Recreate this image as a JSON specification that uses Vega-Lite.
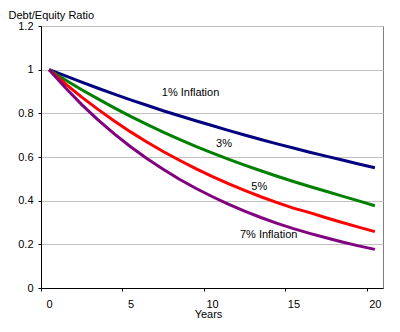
{
  "$schema": "https://vega.github.io/schema/vega-lite/v6.json",
  "autosize": {"type": "none"},
  "padding": {"left": 41, "top": 26, "right": 17, "bottom": 44},
  "width": 342,
  "height": 262,
  "background": "white",
  "config": {
    "font": "Liberation Sans",
    "view": {"stroke": "#808080", "strokeWidth": 1},
    "axis": {
      "labelFont": "Liberation Sans", "labelFontSize": 11, "labelColor": "black",
      "titleFont": "Liberation Sans", "titleFontSize": 11, "titleFontWeight": "normal", "titleColor": "black",
      "domainColor": "black", "tickColor": "black", "tickSize": 3
    }
  },
  "datasets": {
    "ratios": [
      {"year": 0, "p1": 1, "p3": 1, "p5": 1, "p7": 1},
      {"year": 1, "p1": 0.972, "p3": 0.953, "p5": 0.935, "p7": 0.917},
      {"year": 2, "p1": 0.943, "p3": 0.908, "p5": 0.874, "p7": 0.840},
      {"year": 3, "p1": 0.915, "p3": 0.866, "p5": 0.818, "p7": 0.770},
      {"year": 4, "p1": 0.888, "p3": 0.825, "p5": 0.765, "p7": 0.706},
      {"year": 5, "p1": 0.862, "p3": 0.786, "p5": 0.715, "p7": 0.647},
      {"year": 6, "p1": 0.837, "p3": 0.749, "p5": 0.669, "p7": 0.593},
      {"year": 7, "p1": 0.812, "p3": 0.714, "p5": 0.625, "p7": 0.544},
      {"year": 8, "p1": 0.789, "p3": 0.681, "p5": 0.585, "p7": 0.498},
      {"year": 9, "p1": 0.766, "p3": 0.649, "p5": 0.547, "p7": 0.457},
      {"year": 10, "p1": 0.744, "p3": 0.619, "p5": 0.511, "p7": 0.419},
      {"year": 11, "p1": 0.722, "p3": 0.590, "p5": 0.478, "p7": 0.384},
      {"year": 12, "p1": 0.701, "p3": 0.563, "p5": 0.447, "p7": 0.352},
      {"year": 13, "p1": 0.680, "p3": 0.537, "p5": 0.418, "p7": 0.323},
      {"year": 14, "p1": 0.660, "p3": 0.512, "p5": 0.391, "p7": 0.296},
      {"year": 15, "p1": 0.641, "p3": 0.488, "p5": 0.366, "p7": 0.272},
      {"year": 16, "p1": 0.622, "p3": 0.465, "p5": 0.345, "p7": 0.250},
      {"year": 17, "p1": 0.604, "p3": 0.443, "p5": 0.322, "p7": 0.230},
      {"year": 18, "p1": 0.586, "p3": 0.421, "p5": 0.300, "p7": 0.211},
      {"year": 19, "p1": 0.568, "p3": 0.399, "p5": 0.279, "p7": 0.193},
      {"year": 20, "p1": 0.551, "p3": 0.377, "p5": 0.258, "p7": 0.177}
    ],
    "labels": [
      {"label": "1% Inflation", "year": 8.68, "value": 0.892},
      {"label": "3%", "year": 10.74, "value": 0.658},
      {"label": "5%", "year": 12.9, "value": 0.461},
      {"label": "7% Inflation", "year": 13.48, "value": 0.243}
    ]
  },
  "layer": [
    {
      "data": {"name": "ratios"},
      "transform": [{"fold": ["p1", "p3", "p5", "p7"], "as": ["series", "value"]}],
      "mark": {"type": "line", "strokeWidth": 3, "clip": true},
      "encoding": {
        "x": {
          "field": "year", "type": "quantitative",
          "scale": {"domain": [-0.5, 20.5], "nice": false, "zero": false},
          "axis": {
            "title": "Years", "values": [0, 5, 10, 15, 20], "grid": false,
            "tickOffset": -8.14, "labelOffset": 8.14, "labelPadding": 7,
            "titleX": 167, "titleY": 26.5, "titleAnchor": null, "titleAlign": "center", "titleBaseline": "middle"
          }
        },
        "y": {
          "field": "value", "type": "quantitative",
          "scale": {"domain": [0, 1.2], "nice": false},
          "axis": {
            "title": "Debt/Equity Ratio", "values": [0, 0.2, 0.4, 0.6, 0.8, 1, 1.2], "format": "~g",
            "grid": true, "gridColor": "#c0c0c0", "labelPadding": 5,
            "titleAngle": 0, "titleX": -33, "titleY": -11, "titleAlign": "left", "titleBaseline": "middle"
          }
        },
        "color": {
          "field": "series", "type": "nominal",
          "scale": {"domain": ["p1", "p3", "p5", "p7"], "range": ["#000080", "#008000", "#ff0000", "#800080"]},
          "legend": null
        }
      }
    },
    {
      "data": {"name": "labels"},
      "mark": {"type": "text", "fontSize": 11, "font": "Liberation Sans", "color": "black", "align": "center", "baseline": "middle"},
      "encoding": {
        "x": {"field": "year", "type": "quantitative"},
        "y": {"field": "value", "type": "quantitative"},
        "text": {"field": "label"}
      }
    }
  ]
}
